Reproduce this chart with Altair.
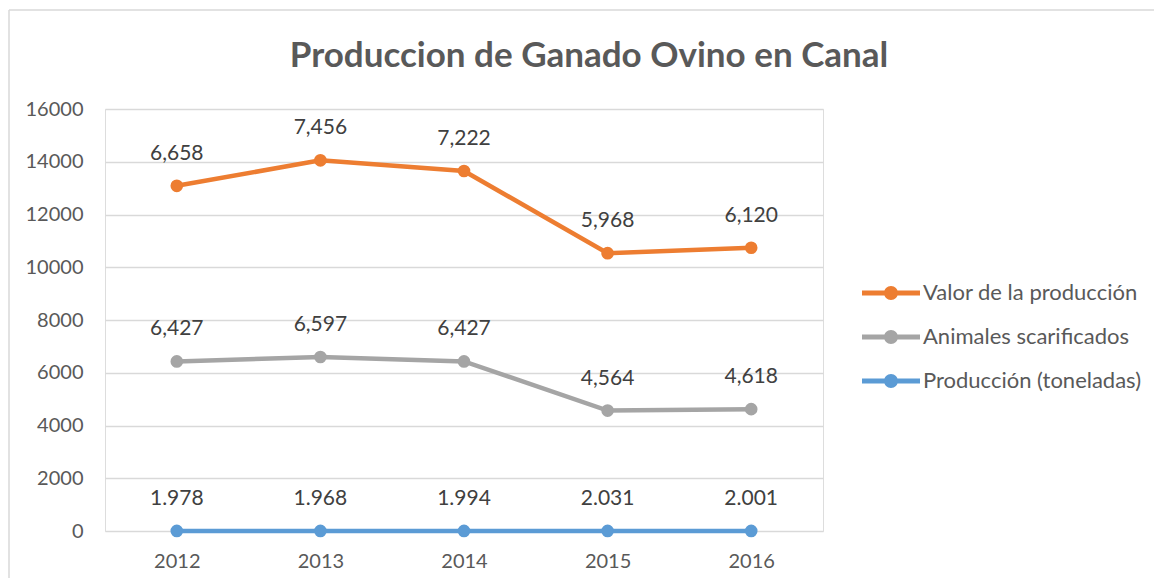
import altair as alt
import pandas as pd

years = ["2012", "2013", "2014", "2015", "2016"]
produccion = [1.978, 1.968, 1.994, 2.031, 2.001]
animales = [6427, 6597, 6427, 4564, 4618]
valor = [6658, 7456, 7222, 5968, 6120]

series_names = ["Producción (toneladas)", "Animales scarificados", "Valor de la producción"]
legend_order = ["Valor de la producción", "Animales scarificados", "Producción (toneladas)"]
colors = ["#ED7D31", "#A5A5A5", "#5B9BD5"]

# stacked line chart (Excel "stacked line"): cumulative positions
rows = []
for i, y in enumerate(years):
    cum = 0.0
    for name, vals, fmt in [
        (series_names[0], produccion, "{:.3f}"),
        (series_names[1], animales, "{:,.0f}"),
        (series_names[2], valor, "{:,.0f}"),
    ]:
        cum += vals[i]
        rows.append({"year": y, "series": name, "value": vals[i], "pos": cum,
                     "label": fmt.format(vals[i])})
df = pd.DataFrame(rows)

FONT = "Lato"
W, H = 718, 422

legend_path = ("M-1,-0.085L1,-0.085L1,0.085L-1,0.085Z "
               "M-0.24,0A0.24,0.24 0 1,1 0.24,0A0.24,0.24 0 1,1 -0.24,0Z")

legend = alt.Legend(
    title=None, orient="none", legendX=757, legendY=155,
    symbolType=legend_path, symbolSize=3364, symbolStrokeWidth=0, symbolOpacity=1,
    labelFontSize=22, labelColor="#595959", labelFont=FONT, labelOffset=3, labelLimit=400,
    rowPadding=4, padding=0,
)

color = alt.Color("series:N", scale=alt.Scale(domain=legend_order, range=colors), legend=legend)

x = alt.X("year:O", scale=alt.Scale(type="point", padding=0.5),
          axis=alt.Axis(title=None, labelAngle=0, ticks=False, domain=False, grid=False,
                        labelFontSize=20, labelColor="#595959", labelFont=FONT, labelPadding=20))
y = alt.Y("pos:Q", scale=alt.Scale(domain=[0, 16000], nice=False),
          axis=alt.Axis(title=None, values=list(range(0, 16001, 2000)), format="d",
                        ticks=False, domain=False, gridColor="#D9D9D9", gridWidth=1.5,
                        labelFontSize=20, labelColor="#595959", labelFont=FONT, labelPadding=22))

base = alt.Chart(df)
lines = base.mark_line(strokeWidth=4.5).encode(x=x, y=y, color=color, detail="series:N")
points = base.mark_point(filled=True, size=160, opacity=1, shape="circle").encode(x=x, y=y, color=color)
labels = base.mark_text(dy=-32, fontSize=21, color="#404040", font=FONT).encode(
    x=x, y=y, text="label:N")

title = alt.Chart(pd.DataFrame({"t": ["Produccion de Ganado Ovino en Canal"]})).mark_text(
    fontSize=35, fontWeight="bold", color="#595959", font=FONT, align="center", baseline="middle"
).encode(x=alt.value(484), y=alt.value(-53), text="t:N")

border_top = alt.Chart(pd.DataFrame({"a": [0]})).mark_rule(color="#D9D9D9", strokeWidth=1.5).encode(
    x=alt.value(-96), x2=alt.value(W + 331), y=alt.value(-99))
border_left = alt.Chart(pd.DataFrame({"a": [0]})).mark_rule(color="#D9D9D9", strokeWidth=1.5).encode(
    x=alt.value(-96), y=alt.value(-99), y2=alt.value(H + 47))

chart = alt.layer(border_top, border_left, lines, points, labels, title).properties(
    width=W, height=H,
    autosize=alt.AutoSizeParams(type="none"),
    padding={"left": 97, "top": 101, "right": 331, "bottom": 47},
).configure_view(stroke=None).configure(font=FONT)

chart.save("out.html", embed_options={"renderer": "svg", "actions": False})
